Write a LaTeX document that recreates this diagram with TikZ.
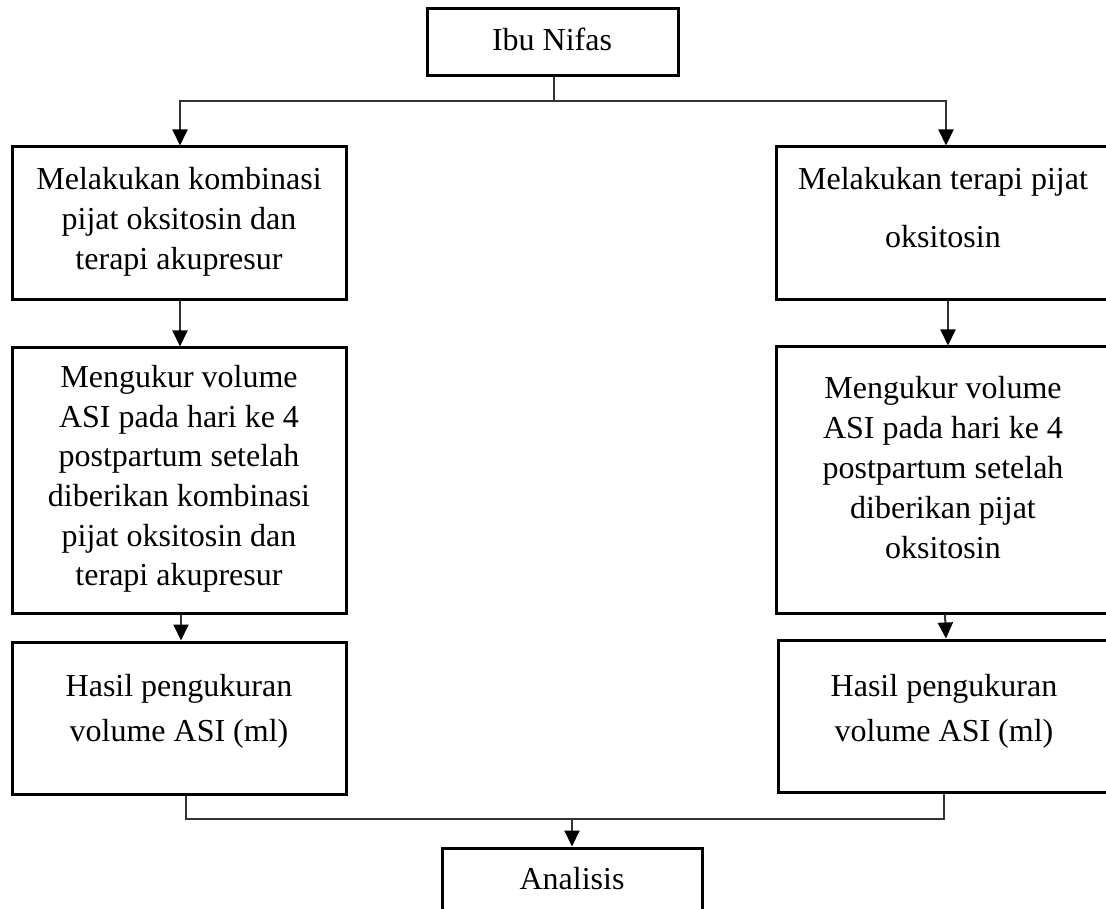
\documentclass[tikz,border=0pt]{standalone}
\usepackage{fontspec}
\setmainfont{Liberation Serif}
\usetikzlibrary{arrows.meta}
\begin{document}
\begin{tikzpicture}[x=1pt,y=-1pt,
  box/.style={draw=black, line width=3pt, rectangle, inner sep=0pt},
  txt/.style={align=center, inner sep=0pt, font=\fontsize{32}{#1}\selectfont},
  txt/.default=40pt,
  conn/.style={draw=black!80, line width=2pt},
  arr/.style={conn, -{Triangle[length=16pt,width=15pt,color=black]}}]
\fill[white] (0,0) rectangle (1106,909);
\useasboundingbox (0,0) rectangle (1106,909);

% boxes
\node[box, minimum width=251pt, minimum height=67pt] (ibu) at (552.5,42.5) {};
\node[box, minimum width=334pt, minimum height=153pt] (l1) at (179,223.5) {};
\node[box, minimum width=334pt, minimum height=265pt] (l2) at (179,480.5) {};
\node[box, minimum width=334pt, minimum height=152pt] (l3) at (179,718) {};
\node[box, minimum width=334pt, minimum height=153pt] (r1) at (943,223.5) {};
\node[box, minimum width=334pt, minimum height=266pt] (r2) at (943,480) {};
\node[box, minimum width=332pt, minimum height=152pt] (r3) at (944,716) {};
\node[box, minimum width=260pt, minimum height=64pt] (ana) at (572,880) {};

% texts
\node[txt] (ibut) at (552,39.2) {Ibu Nifas};
\node[txt] (l1t) at (179,222) {Melakukan kombinasi\\pijat oksitosin dan\\terapi akupresur};
\node[txt=39.6pt] (l2t) at (179,479) {Mengukur volume\\ASI pada hari ke 4\\postpartum setelah\\diberikan kombinasi\\pijat oksitosin dan\\terapi akupresur};
\node[txt=45pt] (l3t) at (179,711) {Hasil pengukuran\\volume ASI (ml)};
\node[txt=58pt] (r1t) at (943,208) {Melakukan terapi pijat\\oksitosin};
\node[txt] (r2t) at (943,468) {Mengukur volume\\ASI pada hari ke 4\\postpartum setelah\\diberikan pijat\\oksitosin};
\node[txt=45pt] (r3t) at (944,711) {Hasil pengukuran\\volume ASI (ml)};
\node[txt] (anat) at (572,878.2) {Analisis};

% connectors
\coordinate (split) at (554,101);
\coordinate (join) at (572,819);
\draw[conn] ([xshift=1.5pt]ibu.south) -- (split);
\draw[arr] (split) -| ([xshift=1pt]l1.north);
\draw[arr] (split) -| ([xshift=3pt]r1.north);
\draw[arr] ([xshift=1pt]l1.south) -- ([xshift=1pt]l2.north);
\draw[arr] ([xshift=2pt]l2.south) -- ([xshift=2pt]l3.north);
\draw[arr] ([xshift=5pt]r1.south) -- ([xshift=5pt]r2.north);
\draw[arr] ([xshift=2pt]r2.south) -- ([xshift=2pt]r3.north);
\draw[conn] ([xshift=7pt]l3.south) |- (join) -| (r3.south);
\draw[arr] (join) -- (ana.north);
\end{tikzpicture}
\end{document}
